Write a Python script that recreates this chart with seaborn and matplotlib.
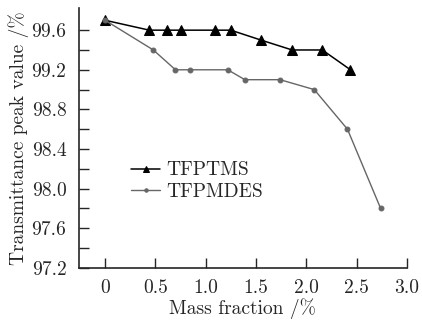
import numpy as np
import pandas as pd
import seaborn as sns
import matplotlib.pyplot as plt

tfptms_x = [0, 0.44, 0.62, 0.75, 1.09, 1.25, 1.55, 1.86, 2.16, 2.44]
tfptms_y = [99.7, 99.6, 99.6, 99.6, 99.6, 99.6, 99.5, 99.4, 99.4, 99.2]

tfpmdes_x = [0, 0.48, 0.70, 0.84, 1.22, 1.39, 1.74, 2.08, 2.41, 2.74]
tfpmdes_y = [99.7, 99.4, 99.2, 99.2, 99.2, 99.1, 99.1, 99.0, 98.6, 97.8]

data = pd.concat([
    pd.DataFrame({"x": tfptms_x, "y": tfptms_y, "sample": "TFPTMS"}),
    pd.DataFrame({"x": tfpmdes_x, "y": tfpmdes_y, "sample": "TFPMDES"}),
])

sns.set_style("ticks")
plt.rcParams['font.family'] = ['cmr10', 'DejaVu Serif']
plt.rcParams['axes.formatter.use_mathtext'] = True
plt.rcParams['mathtext.fontset'] = 'cm'

fig = plt.figure(figsize=(4.22, 3.22), dpi=100)
ax = fig.add_axes([0.187, 0.168, 0.777, 0.806])

sns.lineplot(data=data[data["sample"] == "TFPTMS"], x="x", y="y", ax=ax,
             color="black", marker="^", markersize=6.5, linewidth=1.1,
             markeredgecolor="black", label="TFPTMS", estimator=None, sort=False)
sns.lineplot(data=data[data["sample"] == "TFPMDES"], x="x", y="y", ax=ax,
             color="#666666", marker="o", markersize=3.5, linewidth=1.0,
             markeredgecolor="#666666", label="TFPMDES", estimator=None, sort=False)

ax.set_xlim(-0.26, 3.0)
ax.set_ylim(97.2, 99.82)
ax.set_xticks([0, 0.5, 1.0, 1.5, 2.0, 2.5, 3.0])
ax.set_xticklabels(["0", "0.5", "1.0", "1.5", "2.0", "2.5", "3.0"])
ax.set_yticks([97.2, 97.6, 98.0, 98.4, 98.8, 99.2, 99.6])
ax.set_yticklabels(["97.2", "97.6", "98.0", "98.4", "98.8", "99.2", "99.6"])
ax.set_yticks(np.arange(97.4, 99.8, 0.4), minor=True)
ax.tick_params(direction="in", length=7.5, width=1, labelsize=14)
ax.tick_params(axis="x", pad=8)
ax.tick_params(axis="y", pad=9)
ax.tick_params(which="minor", direction="in", length=7.5, width=1)

ax.set_xlabel("Mass fraction /%", fontsize=14, labelpad=1)
ax.set_ylabel("Transmittance peak value /%", fontsize=14, labelpad=2)

sns.despine(ax=ax)
for s in ["left", "bottom"]:
    ax.spines[s].set_linewidth(1.2)

ax.legend(loc="upper left", bbox_to_anchor=(0.135, 0.44), frameon=False,
          fontsize=14, handlelength=1.5, handletextpad=0.3, labelspacing=0.2,
          borderaxespad=0, markerscale=0.7)

fig.savefig("out.png", dpi=100)
